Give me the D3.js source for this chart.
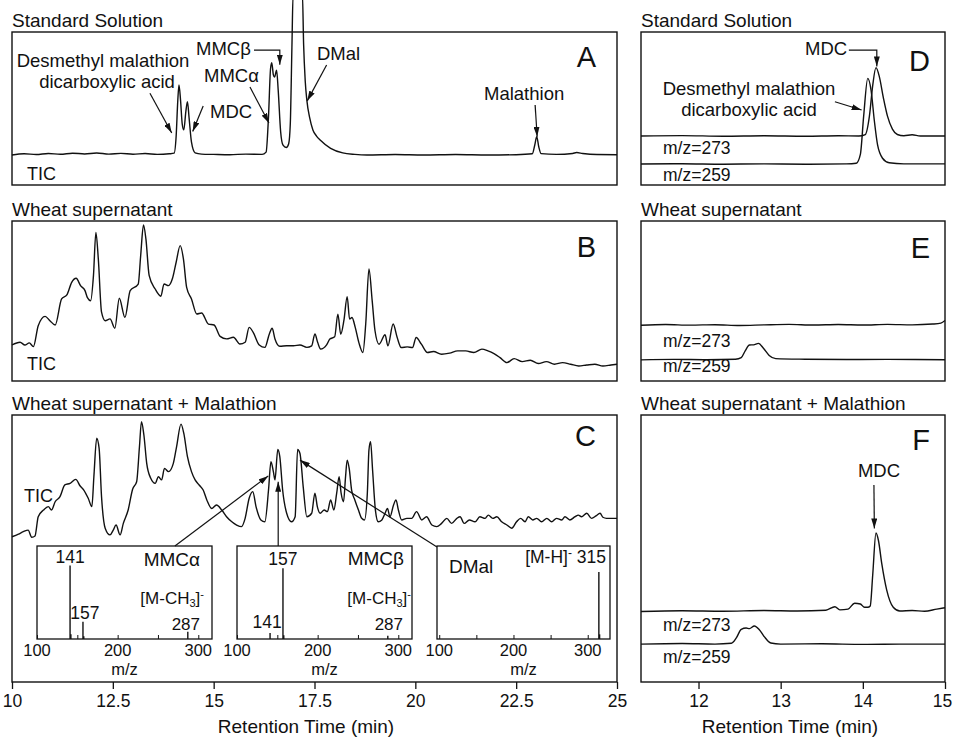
<!DOCTYPE html>
<html>
<head>
<meta charset="utf-8">
<script src="https://cdn.jsdelivr.net/npm/d3@7"></script>
<style>
body { margin:0; background:#fff; }
text { font-family:"Liberation Sans", Arial, sans-serif; fill:#111; }
</style>
</head>
<body>
<svg id="chart" width="953" height="739"></svg>
<script>
// retention time (min), intensity (% of panel height)
var ticA = [[10.0,19.6],[10.3,20.4],[10.6,19.9],[10.9,20.6],[11.2,20.1],[11.5,20.8],[11.8,20.3],[12.1,20.9],[12.4,20.2],[12.7,20.7],[13.0,20.1],[13.3,20.6],[13.6,20.0],[13.9,20.4],[14.02,20.8],[14.07,32],[14.11,55],[14.14,65.4],[14.18,55],[14.22,40],[14.26,36],[14.31,48],[14.35,54.5],[14.39,44],[14.45,28],[14.54,21],[14.7,20.2],[15.0,20.0],[15.4,19.8],[15.8,20.2],[16.2,20.0],[16.3,21.5],[16.36,45],[16.41,76],[16.44,80],[16.48,72],[16.51,70.5],[16.56,75],[16.6,62],[16.66,35],[16.72,26],[16.8,24.5],[16.86,27],[16.9,40],[16.94,90],[16.97,125],[17.2,125],[17.23,92],[17.27,68],[17.31,55.5],[17.38,44],[17.46,36],[17.55,32],[17.64,29.4],[17.9,24],[18.2,21],[18.5,20],[18.8,19.6],[19.5,19.9],[20.2,19.6],[21.0,19.9],[21.8,19.6],[22.5,19.8],[22.9,20.4],[22.96,26],[23.01,31.6],[23.06,25],[23.12,20.5],[23.5,20],[23.9,20.6],[24.0,21.2],[24.15,20.6],[24.5,19.9],[25.0,19.8]];

var ticB = [[10.0,22.5],[10.2,24.2],[10.32,22.5],[10.43,23.8],[10.53,21.5],[10.65,34.6],[10.82,40.4],[10.94,37.7],[11.07,35],[11.23,51.3],[11.36,53.8],[11.48,61.7],[11.59,64.2],[11.7,59.6],[11.81,56.5],[11.87,52.1],[11.95,50.2],[12.02,66],[12.08,92.9],[12.14,76.3],[12.22,43],[12.31,37.7],[12.43,38.8],[12.55,33],[12.66,51.7],[12.8,39.8],[12.93,56.5],[13.13,60.6],[13.19,78.3],[13.26,97.5],[13.32,88.8],[13.4,66],[13.55,57.5],[13.69,53],[13.77,60.6],[13.88,59.6],[13.98,64.2],[14.07,74.2],[14.17,84.6],[14.25,76.3],[14.33,58.5],[14.45,51.3],[14.58,41.9],[14.7,42.5],[14.87,35.6],[15.01,35],[15.16,27.9],[15.32,26.3],[15.49,27.3],[15.65,23.1],[15.78,24.2],[15.88,33.5],[15.98,30.4],[16.13,22.5],[16.27,21],[16.38,29.4],[16.45,33],[16.52,26.3],[16.64,21.7],[16.81,22],[16.98,22],[17.14,22.5],[17.31,21],[17.43,22],[17.51,29.4],[17.58,24],[17.65,20],[17.8,22.6],[17.88,26.2],[18.0,27.6],[18.08,41.8],[18.15,29.2],[18.23,38],[18.31,52.7],[18.37,38.7],[18.43,39.7],[18.51,33.5],[18.6,24],[18.7,17.8],[18.77,35.6],[18.85,70],[18.93,50.2],[19.0,31.4],[19.1,23],[19.25,28.9],[19.32,22],[19.45,35.6],[19.55,27.2],[19.65,20.9],[19.8,21.3],[19.93,20.9],[20.02,27.2],[20.15,23],[20.3,17.8],[20.45,18.4],[20.65,16.7],[20.85,17.4],[21.05,18.8],[21.25,18.8],[21.45,17.8],[21.65,19.9],[21.8,18.8],[21.95,17.1],[22.1,14.6],[22.27,11.5],[22.45,14],[22.65,12.1],[22.85,13],[23.05,10.9],[23.25,12.1],[23.45,10.5],[23.65,11.5],[23.85,10.5],[24.05,9.4],[24.25,10],[24.45,10.5],[24.65,9.4],[24.85,10],[25.0,10.5]];

var ticC = [[10.0,54.4],[10.16,55.4],[10.28,56.3],[10.4,56.9],[10.49,54.2],[10.57,54.7],[10.65,61.9],[10.78,64.4],[10.9,65.7],[10.98,64.4],[11.07,67.5],[11.19,69.4],[11.31,73.8],[11.44,74.4],[11.58,75.9],[11.69,73.4],[11.78,71.9],[11.89,68.8],[11.98,65.7],[12.03,76.9],[12.1,91.3],[12.16,87.5],[12.22,69.4],[12.31,57.6],[12.43,55.1],[12.51,56.9],[12.58,58.8],[12.68,55.1],[12.76,59.4],[12.88,64.4],[12.99,72.2],[13.09,75],[13.16,88.1],[13.21,97.5],[13.27,92.5],[13.34,81.9],[13.44,76.3],[13.55,74.4],[13.63,76.9],[13.71,75.7],[13.78,80],[13.88,78.8],[14.0,81.9],[14.08,88.1],[14.19,96.6],[14.26,93.1],[14.35,84.4],[14.45,78.8],[14.54,75.7],[14.64,73.8],[14.74,71.9],[14.83,68.2],[14.95,65],[15.07,66.3],[15.2,64.4],[15.32,61.9],[15.45,60],[15.57,58.8],[15.69,58.2],[15.78,61.3],[15.88,68.8],[15.97,71.3],[16.05,65.7],[16.17,60.7],[16.27,60],[16.36,71.9],[16.42,82.5],[16.48,78.8],[16.52,75.7],[16.59,87.1],[16.64,84.4],[16.71,71.9],[16.81,63.2],[16.93,60],[17.02,61.9],[17.08,87.1],[17.14,85.6],[17.22,73.1],[17.31,61.9],[17.43,63.2],[17.51,70.7],[17.57,65.7],[17.64,63.2],[17.74,64.4],[17.82,63.8],[17.9,68.2],[17.98,64.4],[18.05,70.7],[18.11,76.9],[18.16,70.7],[18.22,67.5],[18.27,76.9],[18.31,83.1],[18.36,80],[18.42,71.9],[18.5,68.2],[18.59,64.4],[18.67,61.3],[18.74,60.7],[18.81,70.7],[18.85,86.9],[18.89,90],[18.94,79.4],[19.01,64.4],[19.08,60],[19.17,60.7],[19.25,63.2],[19.31,65],[19.37,61.9],[19.46,66.3],[19.52,68.2],[19.58,64.4],[19.66,60.7],[19.79,61.3],[19.91,61.3],[20.03,63.8],[20.16,60.7],[20.28,61.9],[20.41,58.8],[20.53,58.2],[20.65,59.4],[20.78,61.3],[20.9,59.4],[21.03,61.3],[21.11,61.9],[21.21,59.4],[21.34,60.7],[21.48,60],[21.6,61.9],[21.73,61.3],[21.81,62.5],[21.92,61.3],[22.02,61.9],[22.14,60],[22.27,58.8],[22.39,57.6],[22.51,60],[22.61,61.3],[22.72,60],[22.8,61.9],[22.91,60.7],[23.01,61.3],[23.13,60],[23.26,61.3],[23.38,60],[23.5,61.3],[23.63,60.7],[23.71,61.9],[23.83,60.7],[23.96,61.9],[24.04,62.5],[24.12,61.9],[24.25,63.2],[24.37,61.3],[24.48,62.2],[24.58,63.2],[24.65,61.7],[24.74,61.3],[24.95,61.3],[25.0,61.3]];

// extracted ion chromatograms
var d273 = [[11.3,32],[11.8,32.3],[12.3,31.9],[12.8,32.2],[13.3,31.9],[13.7,32.2],[13.95,32],[14.03,33],[14.08,45],[14.12,65],[14.16,76.7],[14.2,71],[14.25,57],[14.3,45],[14.36,36.5],[14.42,33],[14.5,32.2],[14.6,32.8],[14.7,32],[15.0,32]];
var d259 = [[11.3,13.7],[11.8,13.9],[12.3,13.6],[12.8,13.8],[13.3,13.6],[13.8,13.8],[13.92,14.2],[13.97,20],[14.01,45],[14.06,69.7],[14.1,62],[14.14,42],[14.18,26],[14.24,17.5],[14.32,14.5],[14.5,13.8],[15.0,13.8]];
var e273 = [[11.3,34.8],[11.6,35.3],[11.9,34.9],[12.2,35.2],[12.5,34.7],[12.8,35.1],[13.1,35.4],[13.4,35],[13.7,35.3],[14.0,35],[14.3,35.4],[14.6,35.1],[14.85,35.6],[14.95,36.2],[15.0,37.8]];
var e259 = [[11.3,13.2],[11.7,13.5],[12.1,13.3],[12.45,13.6],[12.52,14.6],[12.57,19],[12.62,22.5],[12.67,22.6],[12.73,23.5],[12.79,20.5],[12.86,16],[12.94,14],[13.3,13.6],[13.8,13.4],[14.3,13.5],[15.0,13.3]];
var f273 = [[11.3,26.4],[11.8,26.7],[12.3,26.5],[12.8,26.8],[13.2,26.6],[13.55,26.9],[13.66,28.2],[13.72,27],[13.82,27.3],[13.9,29.5],[13.97,29.2],[14.02,28],[14.06,28],[14.09,28.5],[14.12,40],[14.16,55.8],[14.19,53],[14.23,44.4],[14.29,34.5],[14.37,28],[14.45,26.6],[14.6,26.8],[14.75,26.5],[14.9,27.3],[15.0,27.8]];
var f259 = [[11.3,14.2],[11.8,14.4],[12.2,14.2],[12.4,14.5],[12.46,16.5],[12.52,19.7],[12.58,20.2],[12.62,20],[12.68,21],[12.74,19.6],[12.8,17],[12.88,14.6],[13.0,14.2],[13.5,14.3],[14.0,14.1],[14.5,14.2],[15.0,14.2]];

// mass spectra in the insets (m/z, relative abundance %)
var mmcaMz = [141, 142, 157, 158, 287];
var mmcaInt = [79, 5, 18.5, 3, 7.8];
var mmcbMz = [141, 157, 158, 287];
var mmcbInt = [6.5, 76, 4, 3.5];
var dmalMz = [315, 316];
var dmalInt = [72, 5];

var mainTicks = [10, 12.5, 15, 17.5, 20, 22.5, 25];
var sideTicks = [12, 13, 14, 15];
var msTicks = [100, 200, 300];

var svg = d3.select("#chart");
var ink = "#111";

svg.append("defs").append("marker")
   .attr("id","ah").attr("viewBox","0 0 10 6")
   .attr("refX",10).attr("refY",3)
   .attr("markerWidth",10).attr("markerHeight",6)
   .attr("markerUnits","userSpaceOnUse").attr("orient","auto")
   .append("path").attr("d","M0,0L10,3L0,6Z").attr("fill",ink);

var xMain = d3.scaleLinear().domain([10,25]).range([12,617]);
var xSide = d3.scaleLinear().domain([11.3,15]).range([641,945]);

function yScale(top,bottom) { return d3.scaleLinear().domain([0,100]).range([bottom,top]); }
var yA=yScale(32,185), yB=yScale(221,381), yC=yScale(415,682);
var yD=yScale(32,185), yE=yScale(221,381), yF=yScale(415,682);

function box(x,y) {
  svg.append("rect")
     .attr("x", x.range()[0]).attr("y", y.range()[1])
     .attr("width", x.range()[1]-x.range()[0])
     .attr("height", y.range()[0]-y.range()[1])
     .attr("fill","none").attr("stroke",ink).attr("stroke-width",1.4);
}

function trace(data,x,y) {
  var line = d3.line()
               .x(function(d) { return x(d[0]); })
               .y(function(d) { return y(d[1]); })
               .curve(d3.curveMonotoneX);
  svg.append("path").datum(data)
     .attr("d", line)
     .attr("fill","none").attr("stroke",ink)
     .attr("stroke-width",1.4).attr("stroke-linejoin","round");
}

function label(txt,x,y,size,anchor) {
  return svg.append("text").attr("x",x).attr("y",y)
            .attr("font-size",size).attr("text-anchor",anchor||"start")
            .text(txt);
}

function arrow(pts) {
  svg.append("path")
     .attr("d", d3.line()(pts))
     .attr("fill","none").attr("stroke",ink).attr("stroke-width",1.2)
     .attr("marker-end","url(#ah)");
}

function pt(x,y,d) { return [x(d[0]), y(d[1])]; }

/*****************************************************************/
// left column: TIC

box(xMain,yA); box(xMain,yB); box(xMain,yC);
trace(ticA,xMain,yA);
trace(ticB,xMain,yB);
trace(ticC,xMain,yC);

label("Standard Solution",12,27,19);
label("Wheat supernatant",12,216,19);
label("Wheat supernatant + Malathion",12,410,19);
label("A",596,67,29,"end");
label("B",596,257,29,"end");
label("C",596,446,29,"end");
label("TIC",27,180,18);
label("TIC",27,370,18);
label("TIC",24,502,18);

// panel A annotations
label("Desmethyl malathion",103,67,18.5,"middle");
label("dicarboxylic acid",107,88,18.5,"middle");
label("MMC\u03b2",196,55,18.5);
label("MMC\u03b1",204,82,18.5);
label("MDC",210,118,18.5);
label("DMal",317,60,18.5);
label("Malathion",484,100,18.5);
arrow([pt(xMain,yA,[13.42,60]), pt(xMain,yA,[13.96,34])]);
arrow([pt(xMain,yA,[14.74,51.6]), pt(xMain,yA,[14.48,35])]);
arrow([pt(xMain,yA,[15.9,64]), pt(xMain,yA,[16.37,40.5])]);
arrow([pt(xMain,yA,[16.0,88.2]), pt(xMain,yA,[16.64,88.2]), pt(xMain,yA,[16.64,78.6])]);
arrow([pt(xMain,yA,[17.8,78.4]), pt(xMain,yA,[17.32,55])]);
arrow([pt(xMain,yA,[22.97,52.3]), pt(xMain,yA,[23.02,31.5])]);

// bottom axis, left
var gx = svg.append("g").attr("transform","translate(0,682)");
gx.call(d3.axisBottom(xMain).tickValues(d3.range(20,51).map(function(d){return d/2;}))
          .tickSize(4).tickFormat(""));
gx.call(d3.axisBottom(xMain).tickValues(mainTicks).tickSize(7).tickPadding(6)
          .tickFormat(function(d){ return String(d); }));
gx.selectAll(".domain").remove();
gx.selectAll("line").attr("stroke",ink).attr("stroke-width",1.3);
gx.selectAll("text").attr("font-size",17.5).attr("font-family","Liberation Sans, Arial, sans-serif").attr("fill",ink);
label("Retention Time (min)",306,733,19,"middle");

/*****************************************************************/
// insets: mass spectra
var iTop=546, iBot=639;
var iy = d3.scaleLinear().domain([0,100]).range([iBot,iTop]);

function inset(x0,x1,dom,mz,inten) {
  var ix = d3.scaleLinear().domain(dom).range([x0,x1]);
  svg.append("rect").attr("x",x0).attr("y",iTop)
     .attr("width",x1-x0).attr("height",iBot-iTop)
     .attr("fill","#fff").attr("stroke",ink).attr("stroke-width",1.3);
  var g = svg.append("g").attr("transform","translate(0,"+iBot+")");
  g.call(d3.axisTop(ix).tickValues(d3.range(Math.ceil(dom[0]/10)*10,dom[1],10)).tickSize(2).tickFormat(""));
  g.call(d3.axisTop(ix).tickValues(d3.range(100,dom[1],50)).tickSize(4).tickFormat(""));
  g.selectAll(".domain").remove();
  g.selectAll("line").attr("stroke",ink);
  msTicks.forEach(function(m) { label(String(m), ix(m), 656, 16.5, "middle"); });
  label("m/z",(x0+x1)/2,675,16.5,"middle");
  svg.selectAll(null).data(mz).enter().append("line")
     .attr("x1",function(d){return ix(d);}).attr("x2",function(d){return ix(d);})
     .attr("y1",iBot)
     .attr("y2",function(d,i){return iy(inten[i]);})
     .attr("stroke",ink).attr("stroke-width",1.4);
  return ix;
}

function mch3(x,y) {
  var t = svg.append("text").attr("x",x).attr("y",y).attr("font-size",17).attr("text-anchor","end");
  t.append("tspan").text("[M-CH");
  t.append("tspan").attr("dy",3).attr("font-size",11).text("3");
  t.append("tspan").attr("dy",-3).text("]");
  t.append("tspan").attr("dy",-6).attr("font-size",11).text("-");
}

var ixA = inset(37,212,[100,317],mmcaMz,mmcaInt);
label("141", ixA(141), iy(79)-3, 17.5, "middle");
label("157", ixA(157)+2, iy(18.5)-3, 17.5, "middle");
label("287", 200, 630, 17, "end");
label("MMC\u03b1", 200, 566, 19, "end");
mch3(204, 604);

var ixB = inset(237,412,[100,317],mmcbMz,mmcbInt);
label("157", ixB(157), iy(76)-3, 17.5, "middle");
label("141", ixB(141)-3, 628, 17.5, "middle");
label("287", 403, 630, 17, "end");
label("MMC\u03b2", 404, 565, 19, "end");
mch3(411, 604);

var ixC = inset(437,610,[97,330],dmalMz,dmalInt);
label("DMal", 449, 573, 19);
var mh = svg.append("text").attr("x",606).attr("y",563).attr("font-size",17.5).attr("text-anchor","end");
mh.append("tspan").text("[M-H]");
mh.append("tspan").attr("dy",-6).attr("font-size",12).text("-");
mh.append("tspan").attr("dy",6).text(" 315");

// arrows from the spectra to their peaks
arrow([[ixA(271),iTop], pt(xMain,yC,[16.355,77.2])]);
arrow([[xMain(16.6),iTop], pt(xMain,yC,[16.6,75])]);
arrow([[ixC(97),iTop+1], pt(xMain,yC,[17.14,83.1])]);

/*****************************************************************/
// right column: extracted ions

box(xSide,yD); box(xSide,yE); box(xSide,yF);
trace(d273,xSide,yD); trace(d259,xSide,yD);
trace(e273,xSide,yE); trace(e259,xSide,yE);
trace(f273,xSide,yF); trace(f259,xSide,yF);

label("Standard Solution",641,27,19);
label("Wheat supernatant",641,216,19);
label("Wheat supernatant + Malathion",641,410,19);
label("D",930,71,29,"end");
label("E",930,258,29,"end");
label("F",930,450,29,"end");

label("m/z=273",663,154,17.5); label("m/z=259",663,181,17.5);
label("m/z=273",663,347,17.5); label("m/z=259",663,372,17.5);
label("m/z=273",663,631,17.5); label("m/z=259",663,663,17.5);

label("MDC",805,55,18.5);
label("Desmethyl malathion",749,95,18.5,"middle");
label("dicarboxylic acid",749,116,18.5,"middle");
arrow([pt(xSide,yD,[13.83,88.2]), pt(xSide,yD,[14.17,88.2]), pt(xSide,yD,[14.17,77.5])]);
arrow([pt(xSide,yD,[13.66,54.4]), pt(xSide,yD,[13.985,49])]);

label("MDC",879,477,18.5,"middle");
arrow([pt(xSide,yF,[14.135,73.8]), pt(xSide,yF,[14.14,57.5])]);

var gs = svg.append("g").attr("transform","translate(0,682)");
gs.call(d3.axisBottom(xSide).tickValues(d3.range(57,76).map(function(d){return d/5;}))
          .tickSize(4).tickFormat(""));
gs.call(d3.axisBottom(xSide).tickValues(sideTicks).tickSize(7).tickPadding(6)
          .tickFormat(function(d){ return String(d); }));
gs.selectAll(".domain").remove();
gs.selectAll("line").attr("stroke",ink).attr("stroke-width",1.3);
gs.selectAll("text").attr("font-size",17.5).attr("font-family","Liberation Sans, Arial, sans-serif").attr("fill",ink)
  .attr("dx",function(d){ return d===15 ? -3 : 0; });
label("Retention Time (min)",790,733,19,"middle");
</script>
</body>
</html>
